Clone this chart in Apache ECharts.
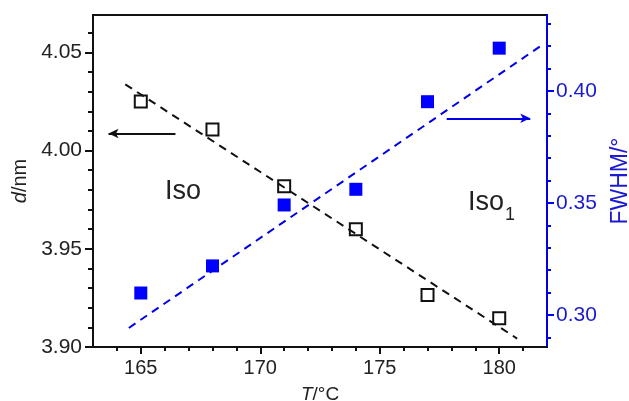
<!DOCTYPE html>
<html>
<head>
<meta charset="utf-8">
<script src="https://cdn.jsdelivr.net/npm/echarts@6/dist/echarts.min.js"></script>
<style>
  html, body { margin: 0; padding: 0; background: #fff; }
  #chart { width: 629px; height: 401px; }
</style>
</head>
<body>
<div id="chart"></div>
<script>
// temperatures (°C)
const temps = [165, 168, 171, 174, 177, 180];
// layer spacing d (nm), hollow squares, left axis
const dValues = [4.025, 4.0107, 3.9818, 3.960, 3.9265, 3.9146];
// FWHM (°), filled squares, right axis
const fwhmValues = [0.3098, 0.3219, 0.3491, 0.3561, 0.3952, 0.4191];
// linear fits, end points [T, value]
const dFit = [[164.35, 4.0337], [180.75, 3.9043]];
const fwhmFit = [[164.5, 0.2942], [181.7, 0.4198]];

// tick values
const xTicks = [165, 170, 175, 180];
const xMinor = [164, 166, 167, 168, 169, 171, 172, 173, 174, 176, 177, 178, 179, 181];
const dTicks = [3.90, 3.95, 4.00, 4.05];
const dMinor = [3.91, 3.92, 3.93, 3.94, 3.96, 3.97, 3.98, 3.99, 4.01, 4.02, 4.03, 4.04, 4.06];
const fTicks = [0.30, 0.35, 0.40];
const fMinor = [0.29, 0.31, 0.32, 0.33, 0.34, 0.36, 0.37, 0.38, 0.39, 0.41, 0.42, 0.43];

const BLACK = '#111';
const BLUE = '#0000e8';
const FONT = '"Liberation Sans", Arial, sans-serif';

const myChart = echarts.init(document.getElementById('chart'));

const toPairs = (xs, ys) => xs.map((x, i) => [x, ys[i]]);

const option = {
  animation: false,
  textStyle: { fontFamily: FONT },
  grid: {
    left: 93, right: 82, top: 15, bottom: 54,
    outerBoundsMode: 'none', containLabel: false,
    show: true, borderColor: BLACK, borderWidth: 2, backgroundColor: 'transparent'
  },
  xAxis: [
    {
      type: 'value', min: 163, max: 182, position: 'bottom',
      axisLine: { lineStyle: { color: BLACK, width: 2 } },
      axisTick: { customValues: xTicks, length: 7, lineStyle: { color: BLACK, width: 2 } },
      axisLabel: { customValues: xTicks, margin: 11, fontSize: 20, color: '#222', fontFamily: FONT },
      splitLine: { show: false },
      name: '{i|T}/°C', nameLocation: 'middle', nameGap: 38,
      nameTextStyle: { fontSize: 19, color: '#222', fontFamily: FONT,
        rich: { i: { fontStyle: 'italic', fontSize: 19, color: '#222', fontFamily: FONT } } }
    },
    {
      type: 'value', min: 163, max: 182, position: 'bottom',
      axisLine: { show: false },
      axisTick: { customValues: xMinor, length: 4, lineStyle: { color: BLACK, width: 2 } },
      axisLabel: { show: false },
      splitLine: { show: false }
    }
  ],
  yAxis: [
    {
      type: 'value', min: 3.90, max: 4.069, position: 'left',
      axisLine: { show: true, lineStyle: { color: BLACK, width: 2 } },
      axisTick: { show: true, customValues: dTicks, length: 8, lineStyle: { color: BLACK, width: 2 } },
      axisLabel: { customValues: dTicks, margin: 11, fontSize: 21, color: '#222', fontFamily: FONT,
        formatter: v => v.toFixed(2) },
      splitLine: { show: false },
      name: '{i|d}/nm', nameLocation: 'middle', nameGap: 62, nameRotate: 90,
      nameTextStyle: { fontSize: 20, color: '#222', fontFamily: FONT,
        rich: { i: { fontStyle: 'italic', fontSize: 20, color: '#222', fontFamily: FONT } } }
    },
    {
      type: 'value', min: 3.90, max: 4.069, position: 'left',
      axisLine: { show: false },
      axisTick: { show: true, customValues: dMinor, length: 5, lineStyle: { color: BLACK, width: 2 } },
      axisLabel: { show: false },
      splitLine: { show: false }
    },
    {
      type: 'value', min: 0.2857, max: 0.4339, position: 'right',
      axisLine: { show: true, lineStyle: { color: BLUE, width: 2 } },
      axisTick: { show: true, customValues: fTicks, length: 7, lineStyle: { color: BLUE, width: 2 } },
      axisLabel: { customValues: fTicks, margin: 9, fontSize: 21, color: '#1a1ad0', fontFamily: FONT,
        formatter: v => v.toFixed(2) },
      splitLine: { show: false },
      name: 'FWHM/°', nameLocation: 'middle', nameGap: 62, nameRotate: 90,
      nameTextStyle: { fontSize: 23, color: '#1a1ad0', fontFamily: FONT }
    },
    {
      type: 'value', min: 0.2857, max: 0.4339, position: 'right',
      axisLine: { show: false },
      axisTick: { show: true, customValues: fMinor, length: 4, lineStyle: { color: BLUE, width: 2 } },
      axisLabel: { show: false },
      splitLine: { show: false }
    }
  ],
  series: [
    {
      name: 'd fit', type: 'line', xAxisIndex: 0, yAxisIndex: 0,
      data: dFit, symbol: 'none', silent: true,
      lineStyle: { color: BLACK, width: 2, type: [8, 6] },
      markLine: {
        silent: true, symbol: ['none', 'arrow'], symbolSize: [7, 10],
        label: { show: false },
        lineStyle: { color: BLACK, width: 2, type: 'solid' },
        data: [[{ coord: [166.45, 4.0087] }, { coord: [163.65, 4.0087] }]]
      }
    },
    {
      name: 'FWHM fit', type: 'line', xAxisIndex: 0, yAxisIndex: 2,
      data: fwhmFit, symbol: 'none', silent: true,
      lineStyle: { color: BLUE, width: 2, type: [8, 6] },
      markLine: {
        silent: true, symbol: ['none', 'arrow'], symbolSize: [7, 10],
        label: { show: false },
        lineStyle: { color: BLUE, width: 2, type: 'solid' },
        data: [[{ coord: [177.8, 0.3878] }, { coord: [181.3, 0.3878] }]]
      }
    },
    {
      name: 'd', type: 'scatter', xAxisIndex: 0, yAxisIndex: 0,
      data: toPairs(temps, dValues), symbol: 'rect', symbolSize: 12,
      itemStyle: { color: '#fff', borderColor: BLACK, borderWidth: 2, opacity: 1 }
    },
    {
      name: 'FWHM', type: 'scatter', xAxisIndex: 0, yAxisIndex: 2,
      data: toPairs(temps, fwhmValues), symbol: 'rect', symbolSize: 13,
      itemStyle: { color: '#0000ff', opacity: 1 }
    }
  ],
  graphic: [
    { type: 'text', x: 165, y: 192, style: { text: 'Iso', font: '27px ' + FONT, fill: '#222', textVerticalAlign: 'middle' } },
    { type: 'text', x: 468, y: 203, style: { text: 'Iso', font: '27px ' + FONT, fill: '#222', textVerticalAlign: 'middle' } },
    { type: 'text', x: 505, y: 215, style: { text: '1', font: '18px ' + FONT, fill: '#222', textVerticalAlign: 'middle' } }
  ]
};

myChart.setOption(option);
</script>
</body>
</html>
